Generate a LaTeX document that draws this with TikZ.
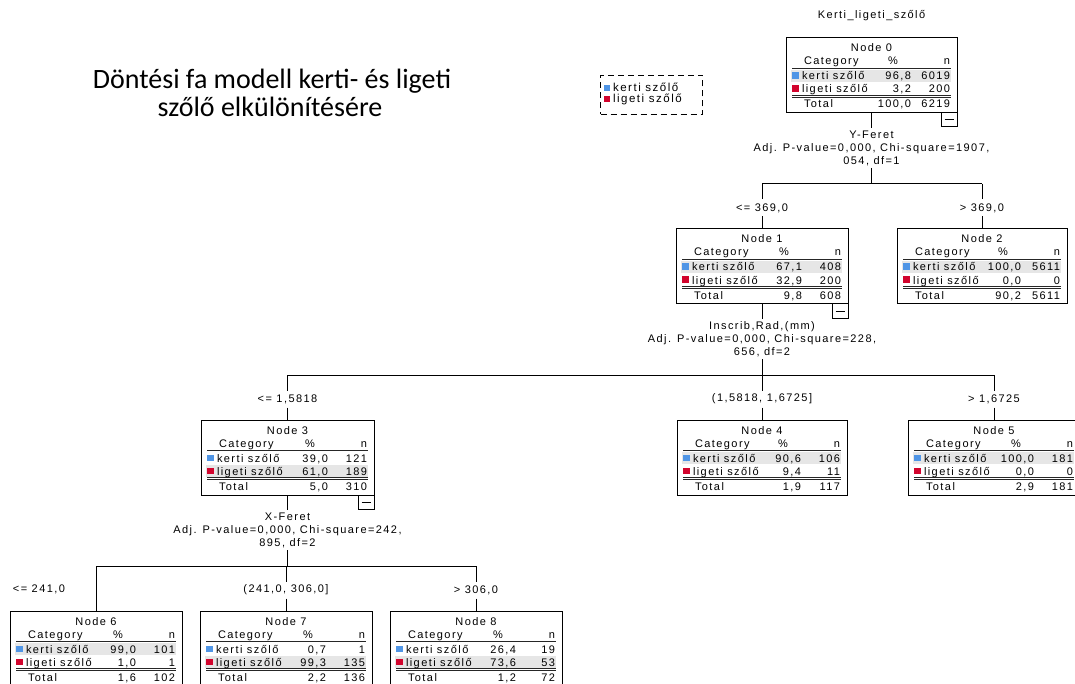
\documentclass[tikz,border=0pt]{standalone}
\usepackage{fontspec}
\usetikzlibrary{calc}
\newfontfamily\tabfont[LetterSpace=13]{Liberation Sans}
\newfontfamily\titlefont{Carlito}
\definecolor{kcol}{HTML}{4F95E6}
\definecolor{lcol}{HTML}{D2042D}
\definecolor{hlgray}{HTML}{E6E6E6}
\tikzset{
  tbox/.style={draw=black, line width=1pt, rectangle, inner sep=0pt, outer sep=0pt, minimum height=75pt, anchor=north},
  tt/.style={font=\tabfont\fontsize{11}{12}\selectfont, inner sep=0pt, outer sep=0pt},
  rule/.style={draw=black!85, line width=0.8pt},
  conn/.style={draw=black, line width=1pt},
  splitlab/.style={tt, align=center, minimum height=40pt, font=\tabfont\fontsize{11}{13}\selectfont},
  brlab/.style={tt, minimum height=17pt},
  legtext/.style={font=\tabfont\fontsize{11.5}{13}\selectfont, inner sep=0pt, anchor=base west},
  bigtitle/.style={font=\titlefont\fontsize{28}{28}\selectfont, inner sep=0pt, anchor=base},
  minusbox/.style={draw=black, line width=1pt, minimum width=16pt, minimum height=14pt, inner sep=0pt, outer sep=0pt, anchor=north east,
    path picture={\draw[line width=1pt] ([xshift=-4.5pt]path picture bounding box.center) -- ([xshift=4.5pt]path picture bounding box.center);}},
}
% box, header, highlight: name, cx, top, width, number, highlight-top
\newcommand\TNbox[6]{%
  \node[tbox, minimum width=#4pt] (#1) at (#2,#3) {};
  \fill[hlgray] ($(#1.north west)+(5,#6)$) rectangle ($(#1.north east)+(-6,#6+12)$);
  \node[tt, anchor=base] at ($(#1.north)+(0,14)$) {Node #5};
  \node[tt, anchor=base west] at ($(#1.north west)+(18,27)$) {Category};
  \node[tt, anchor=base] at ($(#1.north east)+(-64,27)$) {\%};
  \node[tt, anchor=base east] at ($(#1.north east)+(-7,27)$) {n};
  \draw[rule] ($(#1.north west)+(6,30)$) -- ($(#1.north east)+(-6,30)$);
  \draw[rule] ($(#1.north west)+(6,57)$) -- ($(#1.north east)+(-6,57)$);
  \draw[rule] ($(#1.north west)+(6,59.5)$) -- ($(#1.north east)+(-6,59.5)$);
}
% rows: name, kerti %, kerti n, ligeti %, ligeti n, total %, total n
\newcommand\TNrows[7]{%
  \fill[kcol] ($(#1.north west)+(6,34.5)$) rectangle ++(6.5,6.5);
  \fill[lcol] ($(#1.north west)+(6,47.5)$) rectangle ++(6.5,6.5);
  \node[tt, anchor=base west] at ($(#1.north west)+(16,42)$) {kerti szőlő};
  \node[tt, anchor=base east] at ($(#1.north east)+(-46,42)$) {#2};
  \node[tt, anchor=base east] at ($(#1.north east)+(-7,42)$) {#3};
  \node[tt, anchor=base west] at ($(#1.north west)+(16,55)$) {ligeti szőlő};
  \node[tt, anchor=base east] at ($(#1.north east)+(-46,55)$) {#4};
  \node[tt, anchor=base east] at ($(#1.north east)+(-7,55)$) {#5};
  \node[tt, anchor=base west] at ($(#1.north west)+(18,70)$) {Total};
  \node[tt, anchor=base east] at ($(#1.north east)+(-46,70)$) {#6};
  \node[tt, anchor=base east] at ($(#1.north east)+(-7,70)$) {#7};
}
\begin{document}
\begin{tikzpicture}[x=1pt,y=-1pt]
\useasboundingbox (0,0) rectangle (1075,684);
\clip (0,0) rectangle (1075,684);

% titles
\node[bigtitle] (title1) at (272,89) {Döntési fa modell kerti- és ligeti};
\node[bigtitle] (title2) at (270,117) {szőlő elkülönítésére};
\node[tt, anchor=base] (dep) at (871.5,19) {Kerti\_ligeti\_szőlő};

% legend
\node[draw=black, line width=1.2pt, dash pattern=on 6pt off 4pt, minimum width=102pt, minimum height=39pt, inner sep=0pt] (leg) at (651.5,95) {};
\fill[kcol] ($(leg.north west)+(4,10)$) rectangle ++(6.5,6.5);
\fill[lcol] ($(leg.north west)+(4,21)$) rectangle ++(6.5,6.5);
\node[legtext] (legk) at ($(leg.north west)+(13,17)$) {kerti szőlő};
\node[legtext] (legl) at ($(leg.north west)+(13,28)$) {ligeti szőlő};

% tree nodes
\TNbox{n0}{871.5}{38}{171}{0}{32}
\TNrows{n0}{96,8}{6019}{3,2}{200}{100,0}{6219}
\TNbox{n1}{762}{229}{172}{1}{32}
\TNrows{n1}{67,1}{408}{32,9}{200}{9,8}{608}
\TNbox{n2}{982}{229}{170}{2}{32}
\TNrows{n2}{100,0}{5611}{0,0}{0}{90,2}{5611}
\TNbox{n3}{287.5}{420}{173}{3}{45}
\TNrows{n3}{39,0}{121}{61,0}{189}{5,0}{310}
\TNbox{n4}{762}{420}{170}{4}{32}
\TNrows{n4}{90,6}{106}{9,4}{11}{1,9}{117}
\TNbox{n5}{994}{420}{172}{5}{32}
\TNrows{n5}{100,0}{181}{0,0}{0}{2,9}{181}
\TNbox{n6}{96}{611}{172}{6}{32}
\TNrows{n6}{99,0}{101}{1,0}{1}{1,6}{102}
\TNbox{n7}{286}{611}{172}{7}{45}
\TNrows{n7}{0,7}{1}{99,3}{135}{2,2}{136}
\TNbox{n8}{476}{611}{172}{8}{45}
\TNrows{n8}{26,4}{19}{73,6}{53}{1,2}{72}

% collapse boxes
\node[minusbox] (m0) at (n0.south east) {};
\node[minusbox] (m1) at (n1.south east) {};
\node[minusbox] (m3) at (n3.south east) {};

% split of node 0
\node[splitlab] (s0) at ($(n0.south)+(0,35)$) {Y-Feret\\Adj. P-value=0,000, Chi-square=1907,\\054, df=1};
\draw[conn] (n0.south) -- (s0.north);
\coordinate (j0) at ($(s0.south)+(0,16)$);
\draw[conn] (s0.south) -- (j0);
\draw[conn] (n1.north |- j0) -- (n2.north |- j0);
\node[brlab] (e1) at ($(n1.north |- j0)+(0,24)$) {<= 369,0};
\node[brlab] (e2) at ($(n2.north |- j0)+(0,24)$) {> 369,0};
\draw[conn] (n1.north |- j0) -- (e1.north);
\draw[conn] (e1.south) -- (n1.north);
\draw[conn] (n2.north |- j0) -- (e2.north);
\draw[conn] (e2.south) -- (n2.north);

% split of node 1
\node[splitlab] (s1) at ($(n1.south)+(0,35)$) {Inscrib,Rad,(mm)\\Adj. P-value=0,000, Chi-square=228,\\656, df=2};
\draw[conn] (n1.south) -- (s1.north);
\coordinate (j1) at ($(s1.south)+(0,16)$);
\draw[conn] (s1.south) -- (j1);
\draw[conn] (n3.north |- j1) -- (n5.north |- j1);
\node[brlab] (e3) at ($(n3.north |- j1)+(0,24)$) {<= 1,5818};
\node[brlab] (e4) at ($(n4.north |- j1)+(0,24)$) {(1,5818, 1,6725]};
\node[brlab] (e5) at ($(n5.north |- j1)+(0,24)$) {> 1,6725};
\draw[conn] (n3.north |- j1) -- (e3.north);
\draw[conn] (e3.south) -- (n3.north);
\draw[conn] (n4.north |- j1) -- (e4.north);
\draw[conn] (e4.south) -- (n4.north);
\draw[conn] (n5.north |- j1) -- (e5.north);
\draw[conn] (e5.south) -- (n5.north);

% split of node 3
\node[splitlab] (s3) at ($(n3.south)+(0,35)$) {X-Feret\\Adj. P-value=0,000, Chi-square=242,\\895, df=2};
\draw[conn] (n3.south) -- (s3.north);
\coordinate (j3) at ($(s3.south)+(0,16)$);
\draw[conn] (s3.south) -- (j3);
\draw[conn] (n6.north |- j3) -- (n8.north |- j3);
\node[brlab] (e6) at (39,589) {<= 241,0};
\node[brlab] (e7) at ($(n7.north |- j3)+(0,24)$) {(241,0, 306,0]};
\node[brlab] (e8) at ($(n8.north |- j3)+(0,24)$) {> 306,0};
\draw[conn] (n6.north |- j3) -- (n6.north);
\draw[conn] (n7.north |- j3) -- (e7.north);
\draw[conn] (e7.south) -- (n7.north);
\draw[conn] (n8.north |- j3) -- (e8.north);
\draw[conn] (e8.south) -- (n8.north);
\end{tikzpicture}
\end{document}
